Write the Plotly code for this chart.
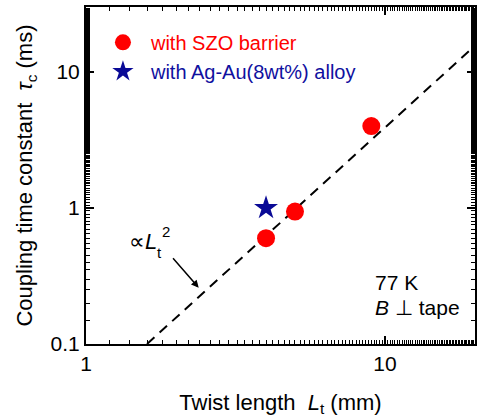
import plotly.graph_objects as go

# Data
szo_x = [4, 5, 9]
szo_y = [0.6, 0.94, 4.0]
ag_x = [4]
ag_y = [1.0]
fit_x = [1.6, 20]
fit_y = [0.1, 15.6]

x_tickvals = [1, 10]
x_ticktext = ["1", "10"]
y_tickvals = [0.1, 1, 10]
y_ticktext = ["0.1", "1", "10"]

FONT = "Arial, Liberation Sans, sans-serif"

fig = go.Figure()
fig.add_trace(go.Scatter(x=fit_x, y=fit_y, mode="lines", showlegend=False,
                         line=dict(color="black", width=2, dash="10px,7px")))
fig.add_trace(go.Scatter(x=szo_x, y=szo_y, mode="markers",
                         name="<span style='color:#ff0000'>with SZO barrier</span>",
                         marker=dict(symbol="circle", size=18, color="#ff0000")))
fig.add_trace(go.Scatter(x=ag_x, y=ag_y, mode="markers",
                         name="<span style='color:#1010a0'>with Ag-Au(8wt%) alloy</span>",
                         marker=dict(symbol="star", size=18, color="#0a0a96")))

axis_common = dict(showline=True, linecolor="black", linewidth=2, mirror="allticks",
                   ticks="inside", ticklen=8, tickwidth=1.5, tickcolor="black",
                   showgrid=False, zeroline=False,
                   tickfont=dict(size=21, color="black", family=FONT),
                   minor=dict(ticks="inside", ticklen=4, tickwidth=1.2, tickcolor="black", showgrid=False))

fig.update_xaxes(type="log", range=[0, 1.301], tickvals=x_tickvals, ticktext=x_ticktext,
                 title=dict(text="Twist length  <i>L</i><sub>t</sub> (mm)", font=dict(size=22, family=FONT, color="black"), standoff=20),
                 **axis_common)
fig.update_yaxes(type="log", range=[-1, 1.477], tickvals=y_tickvals, ticktext=y_ticktext,
                 title=dict(text="Coupling time constant  <i>τ</i><sub>c</sub> (ms)", font=dict(size=22, family=FONT, color="black"), standoff=12),
                 **axis_common)

fig.add_annotation(x=0.377, y=-0.587, xref="x", yref="y", text="", showarrow=True,
                   ax=-27, ay=-31, arrowhead=2, arrowsize=1, arrowwidth=1.5, arrowcolor="black")
fig.add_annotation(x=0.189, y=-0.247, xref="x", yref="y", text="∝<i>L</i>",
                   showarrow=False, font=dict(size=22, family=FONT, color="black"))
fig.add_annotation(x=0.245, y=-0.33, xref="x", yref="y", text="t",
                   showarrow=False, font=dict(size=15, family=FONT, color="black"))
fig.add_annotation(x=0.267, y=-0.17, xref="x", yref="y", text="2",
                   showarrow=False, font=dict(size=15, family=FONT, color="black"))
fig.add_annotation(x=0.96, y=-0.55, xref="x", yref="y", text="77 K", xanchor="left",
                   showarrow=False, font=dict(size=21, family=FONT, color="black"))
fig.add_annotation(x=0.96, y=-0.734, xref="x", yref="y", text="<i>B</i> ⊥ tape", xanchor="left",
                   showarrow=False, font=dict(size=21, family=FONT, color="black"))

fig.update_layout(width=478, height=419, margin=dict(l=86, r=1, t=7, b=75),
                  paper_bgcolor="white", plot_bgcolor="white",
                  font=dict(family=FONT, size=20, color="black"),
                  legend=dict(x=0.023, y=0.953, xanchor="left", yanchor="top",
                              bgcolor="rgba(0,0,0,0)", font=dict(size=20, family=FONT),
                              itemwidth=46, tracegroupgap=0))
fig.write_html("out.html")
